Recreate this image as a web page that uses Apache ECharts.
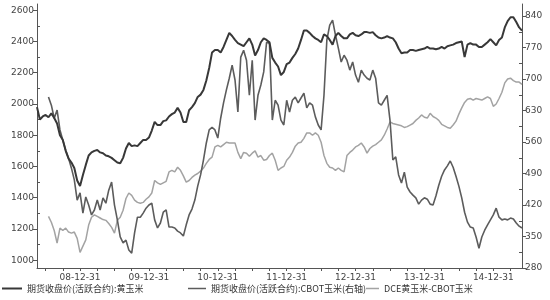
<!DOCTYPE html>
<html><head><meta charset="utf-8">
<script src="https://cdn.jsdelivr.net/npm/echarts@6/dist/echarts.min.js"></script>
<style>html,body{margin:0;padding:0;background:#fff}#c{width:550px;height:300px}</style>
</head><body><div id="c"></div>
<script>
// Half-month category dates, 2008-05-15 .. 2015-05-31
var categories = [];
(function(){
  for (var y = 2008; y <= 2015; y++) for (var m = 1; m <= 12; m++) {
    var mm = (m < 10 ? '0' : '') + m;
    var last = new Date(y, m, 0).getDate();
    var a = y + '-' + mm + '-15', b = y + '-' + mm + '-' + last;
    [a, b].forEach(function(d){ if (d >= '2008-05-15' && d <= '2015-05-31') categories.push(d); });
  }
})();

var leftTicks = [1000,1200,1400,1600,1800,2000,2200,2400,2600];
var leftMinor = [1100,1300,1500,1700,1900,2100,2300,2500];
var rightTicks = [280,350,420,490,560,630,700,770,840];
var rightMinor = [315,385,455,525,595,665,735,805];

var names = ['期货收盘价(活跃合约):黄玉米','期货收盘价(活跃合约):CBOT玉米(右轴)','DCE黄玉米-CBOT玉米'];

var dce = [1980,1900,1920,1930,1915,1940,1910,1875,1800,1770,
1700,1650,1625,1590,1510,1475,1545,1610,1670,1690,
1700,1705,1690,1685,1670,1665,1655,1640,1625,1620,
1655,1715,1750,1730,1735,1730,1750,1770,1770,1785,
1830,1885,1865,1865,1890,1895,1920,1935,1945,1975,
1945,1885,1885,1960,1980,2005,2045,2060,2090,2150,
2230,2330,2345,2345,2330,2365,2410,2455,2435,2410,
2390,2380,2370,2395,2420,2380,2310,2345,2395,2420,
2410,2395,2295,2265,2240,2185,2205,2255,2265,2295,
2320,2355,2410,2470,2470,2455,2435,2420,2410,2395,
2445,2435,2410,2380,2435,2455,2435,2420,2420,2445,
2455,2440,2435,2445,2460,2460,2455,2460,2440,2425,
2420,2425,2435,2425,2420,2395,2355,2325,2330,2330,
2345,2345,2340,2345,2350,2355,2365,2355,2355,2350,
2355,2365,2355,2370,2375,2380,2390,2395,2400,2300,
2380,2390,2380,2380,2365,2365,2380,2395,2415,2395,
2375,2410,2425,2490,2530,2555,2555,2525,2490,2470];

var cbot = [null,null,null,null,660,642,613,631,587,564,
542,524,502,476,431,447,402,438,420,398,
409,431,409,436,424,453,471,420,387,349,
336,342,320,313,358,393,393,402,413,420,
424,387,369,380,404,409,371,371,369,362,
358,351,376,398,411,431,462,487,520,558,
587,593,587,569,613,647,676,702,731,698,
627,749,764,742,664,742,609,664,687,716,
782,780,609,653,642,609,598,653,627,653,
660,647,658,669,636,647,642,616,598,587,
664,787,820,831,798,769,738,753,742,720,
738,709,693,720,709,702,698,720,702,647,
642,653,664,609,520,527,487,469,493,460,
449,442,436,422,431,436,433,422,420,440,
464,484,498,507,518,504,484,462,436,404,
382,371,369,349,324,349,364,376,387,398,
413,393,387,389,387,391,389,380,373,369];

var spread = [null,null,null,null,1280,1243,1190,1110,1205,1190,
1205,1180,1173,1180,1140,1050,1090,1130,1225,1275,
1290,1280,1270,1260,1255,1235,1210,1173,1255,1275,
1320,1395,1430,1415,1385,1370,1365,1370,1390,1405,
1430,1510,1495,1485,1495,1505,1565,1575,1565,1595,
1575,1540,1500,1510,1530,1545,1555,1570,1590,1620,
1645,1660,1725,1735,1725,1740,1755,1750,1750,1750,
1690,1650,1690,1685,1665,1685,1700,1660,1670,1640,
1645,1670,1685,1640,1575,1590,1600,1640,1660,1690,
1730,1750,1755,1780,1815,1815,1800,1815,1800,1755,
1670,1620,1595,1590,1575,1590,1575,1565,1670,1690,
1705,1725,1735,1750,1725,1685,1715,1730,1740,1755,
1770,1800,1840,1885,1875,1870,1865,1860,1850,1855,
1865,1875,1895,1910,1930,1915,1910,1940,1920,1910,
1895,1870,1860,1850,1845,1865,1890,1935,1975,2010,
2030,2035,2025,2035,2030,2025,2035,2045,2035,1985,
2000,2035,2075,2135,2160,2165,2150,2140,2140,2125];

var axisCol = '#555';
var lblStyle = {color:'#444', fontSize:9, fontFamily:'DejaVu Sans'};
var plain = function(v){ return String(v); };
var chart = echarts.init(document.getElementById('c'), null, {renderer:'canvas'});
function isQuarterEnd(v){ return /-(03-31|06-30|09-30|12-31)$/.test(v); }
var legText = {fontSize:9, color:'#333', fontFamily:'Noto Sans CJK SC'};
chart.setOption({
  animation:false,
  backgroundColor:'#fff',
  grid:{left:37, right:28, top:4, bottom:32},
  xAxis:{type:'category', data:categories, boundaryGap:false,
    axisLine:{lineStyle:{color:axisCol, width:1}},
    axisTick:{show:true, length:3, lineStyle:{color:axisCol}, interval:function(i,v){return isQuarterEnd(v);}},
    axisLabel:Object.assign({}, lblStyle, {margin:5, interval:function(i,v){return /-12-31$/.test(v);}, formatter:function(v){return v.slice(2);}}),
    splitLine:{show:false}},
  yAxis:[
    {type:'value', position:'left', min:950, max:2640,
     axisLine:{show:true, lineStyle:{color:axisCol}},
     axisTick:{show:true, length:4, customValues:leftTicks, lineStyle:{color:axisCol}},
     axisLabel:Object.assign({}, lblStyle, {customValues:leftTicks, margin:3, formatter:plain}),
     splitLine:{show:false}},
    {type:'value', position:'right', min:280, max:867,
     axisLine:{show:true, lineStyle:{color:axisCol}},
     axisTick:{show:true, length:4, customValues:rightTicks, lineStyle:{color:axisCol}},
     axisLabel:Object.assign({}, lblStyle, {customValues:rightTicks, margin:3, formatter:plain}),
     splitLine:{show:false}},
    {type:'value', position:'left', min:950, max:2640,
     axisLine:{show:false}, axisLabel:{show:false}, splitLine:{show:false},
     axisTick:{show:true, inside:true, length:3, customValues:leftMinor, lineStyle:{color:axisCol}}},
    {type:'value', position:'right', min:280, max:867,
     axisLine:{show:false}, axisLabel:{show:false}, splitLine:{show:false},
     axisTick:{show:true, inside:true, length:3, customValues:rightMinor, lineStyle:{color:axisCol}}}
  ],
  legend:[
    {data:[names[0]], left:2, top:284, padding:0, icon:'rect', itemWidth:20, itemHeight:2, textStyle:legText},
    {data:[names[1]], left:188, top:284, padding:0, icon:'rect', itemWidth:18, itemHeight:1.5, textStyle:legText},
    {data:[names[2]], left:366, top:284, padding:0, icon:'rect', itemWidth:13, itemHeight:1.5, textStyle:legText}
  ],
  series:[
    {name:names[0], type:'line', yAxisIndex:0, data:dce, symbol:'none', lineStyle:{color:'#383838', width:2}, itemStyle:{color:'#383838'}, z:4},
    {name:names[1], type:'line', yAxisIndex:1, data:cbot, symbol:'none', lineStyle:{color:'#5c5c5c', width:1.6}, itemStyle:{color:'#5c5c5c'}, z:3},
    {name:names[2], type:'line', yAxisIndex:0, data:spread, symbol:'none', lineStyle:{color:'#a3a3a3', width:1.5}, itemStyle:{color:'#a3a3a3'}, z:2}
  ]
});
</script></body></html>
